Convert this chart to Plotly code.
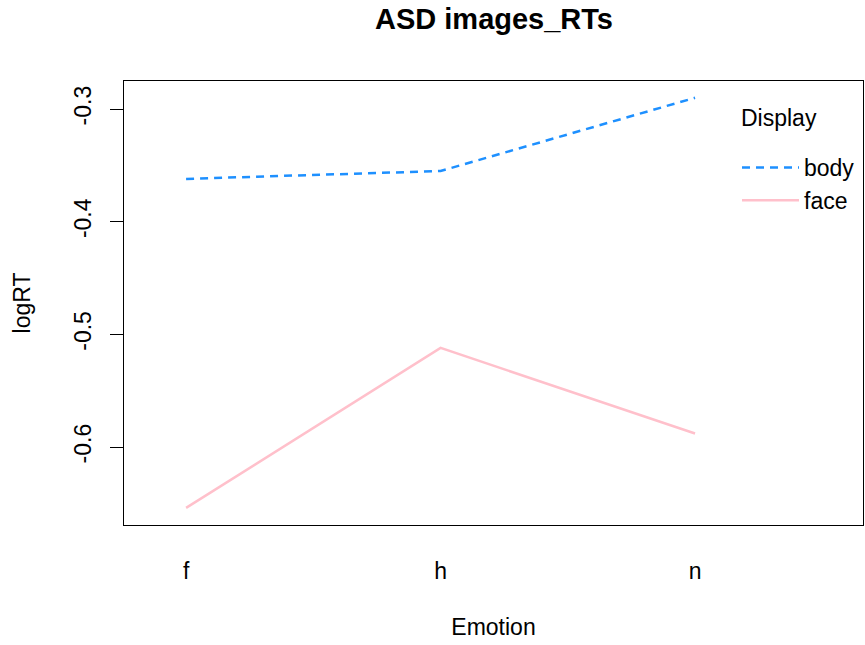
import plotly.graph_objects as go

emotions = ["f", "h", "n"]
body_rt = [-0.362, -0.355, -0.290]
face_rt = [-0.654, -0.512, -0.588]
y_ticks = [-0.3, -0.4, -0.5, -0.6]

FONT = "Liberation Sans, Arial, sans-serif"
xpos = [1, 2, 3]

fig = go.Figure()
fig.add_trace(go.Scatter(x=xpos, y=body_rt, mode="lines", name="body",
                         line=dict(color="#1E90FF", width=2.5, dash="8px,6px")))
fig.add_trace(go.Scatter(x=xpos, y=face_rt, mode="lines", name="face",
                         line=dict(color="#FFC0CB", width=2.5)))

fig.update_layout(
    width=865, height=645,
    margin=dict(l=124, r=2, t=81, b=120),
    paper_bgcolor="white", plot_bgcolor="white",
    font=dict(family=FONT, size=23, color="black"),
    title=dict(text="<b>ASD images_RTs</b>", x=494/865, xanchor="center",
               y=1 - 19/645, yanchor="middle", font=dict(size=29)),
    showlegend=True,
    legend=dict(x=(737-124)/739, xanchor="left", y=1 - (146-81)/444, yanchor="top",
                bgcolor="rgba(0,0,0,0)", borderwidth=0, font=dict(size=23),
                tracegroupgap=0, itemwidth=57),
    annotations=[dict(text="Display", xref="paper", yref="paper",
                      x=(739-124)/739, xanchor="left", y=1 - (118-81)/444, yanchor="middle",
                      showarrow=False, font=dict(size=23))],
    xaxis=dict(range=[0.756, 3.66], tickmode="array", tickvals=xpos, ticktext=emotions,
               showgrid=False, zeroline=False, showline=True, linecolor="black",
               linewidth=1, mirror=True, ticks="", ticklabelstandoff=25,
               title=dict(text="Emotion", standoff=36, font=dict(size=23))),
    yaxis=dict(range=[-0.6692, -0.2751], tickmode="array", tickvals=y_ticks,
               ticktext=[str(v) for v in y_ticks], tickangle=-90,
               showgrid=False, zeroline=False, showline=True, linecolor="black",
               linewidth=1, mirror=True, ticks="outside", ticklen=13, tickcolor="black",
               ticklabelstandoff=10,
               title=dict(text="logRT", standoff=32, font=dict(size=23))),
)

fig.write_html("out.html")
